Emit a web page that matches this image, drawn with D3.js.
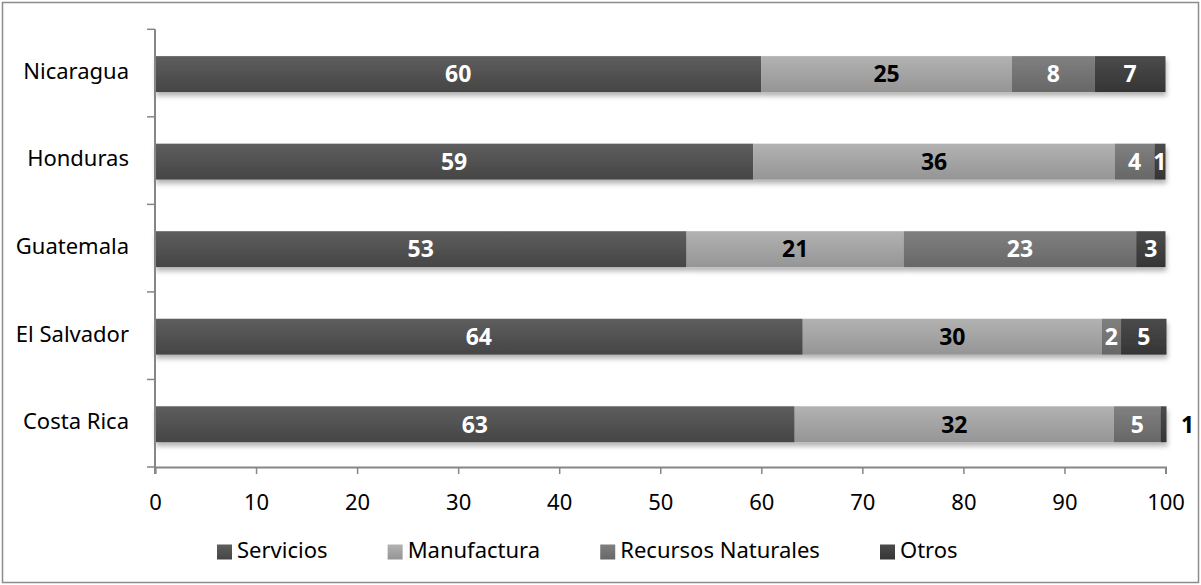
<!DOCTYPE html>
<html>
<head>
<meta charset="utf-8">
<script src="https://cdn.jsdelivr.net/npm/d3@7"></script>
<style>
  body { margin: 0; background: #fff; }
  text { font-family: "Noto Sans", sans-serif; }
</style>
</head>
<body>
<script>
// data (percent of total, per country)
const countries = ["Nicaragua", "Honduras", "Guatemala", "El Salvador", "Costa Rica"];
const series = ["Servicios", "Manufactura", "Recursos Naturales", "Otros"];
const servicios = [60.0, 59.2, 52.6, 64.1, 63.3];
const manufactura = [24.8, 35.8, 21.5, 29.6, 31.6];
const recursos = [8.2, 3.9, 23.0, 1.9, 4.6];
const otros = [7.0, 1.1, 2.9, 4.5, 0.6];
const xTicks = [0, 10, 20, 30, 40, 50, 60, 70, 80, 90, 100];

const W = 1201, H = 585;
const margin = { top: 29.3, right: 36, bottom: 118, left: 155 };
const width = W - margin.left - margin.right,
      height = H - margin.top - margin.bottom;
const fs = 22;

const colors = {
  "Servicios": ["#5e5e5e", "#454545"],
  "Manufactura": ["#b2b2b2", "#959595"],
  "Recursos Naturales": ["#808080", "#676767"],
  "Otros": ["#4b4b4b", "#353535"]
};
const labelColor = { "Servicios": "#fff", "Manufactura": "#000", "Recursos Naturales": "#fff", "Otros": "#fff" };

const rows = countries.map((c, i) => ({
  country: c,
  "Servicios": servicios[i],
  "Manufactura": manufactura[i],
  "Recursos Naturales": recursos[i],
  "Otros": otros[i]
}));
const stacked = d3.stack().keys(series)(rows);

const svg = d3.select("body").append("svg")
  .attr("width", W).attr("height", H);

const defs = svg.append("defs");
series.forEach((s, i) => {
  const g = defs.append("linearGradient").attr("id", "g" + i)
    .attr("x1", 0).attr("y1", 0).attr("x2", 0).attr("y2", 1);
  g.append("stop").attr("offset", "0%").attr("stop-color", colors[s][0]);
  g.append("stop").attr("offset", "100%").attr("stop-color", colors[s][1]);
});
defs.append("filter").attr("id", "shadow")
  .attr("x", "-5%").attr("y", "-20%").attr("width", "110%").attr("height", "160%")
  .append("feDropShadow")
    .attr("dx", 1).attr("dy", 4).attr("stdDeviation", 2.5)
    .attr("flood-color", "#000").attr("flood-opacity", 0.3);

// outer frame
svg.append("rect")
  .attr("x", 2.5).attr("y", 2.5).attr("width", W - 5).attr("height", H - 5)
  .attr("fill", "none").attr("stroke", "#8c8c8c").attr("stroke-width", 1.5);

const g = svg.append("g").attr("transform", `translate(${margin.left},${margin.top})`);

const x = d3.scaleLinear().domain([0, 100]).range([0, width + 0.5]);
const y = d3.scaleBand().domain(countries).range([0, height])
  .paddingInner(0.59).paddingOuter(0.295);

// bars
const barGroup = g.append("g").attr("filter", "url(#shadow)");
stacked.forEach((s, i) => {
  barGroup.selectAll(null).data(s).join("rect")
    .attr("x", d => x(d[0]))
    .attr("y", d => y(d.data.country) + 1)
    .attr("width", d => x(d[1]) - x(d[0]))
    .attr("height", y.bandwidth())
    .attr("fill", `url(#g${i})`);
});

// value labels
stacked.forEach(s => {
  g.selectAll(null).data(s).join("text")
    .attr("x", d => {
      const w = x(d[1]) - x(d[0]);
      return w < 8 ? x(d[1]) + 21 : (x(d[0]) + x(d[1])) / 2;
    })
    .attr("y", d => y(d.data.country) + y.bandwidth() / 2 + 3)
    .attr("text-anchor", "middle")
    .attr("dominant-baseline", "middle")
    .attr("font-size", 23)
    .attr("font-weight", "bold")
    .attr("fill", d => (x(d[1]) - x(d[0]) < 8) ? "#000" : labelColor[s.key])
    .text(d => Math.round(d[1] - d[0]));
});

// axes
const axisColor = "#868686";
const xAxis = g.append("g").attr("transform", `translate(0,${height})`)
  .call(d3.axisBottom(x).tickValues(xTicks).tickSize(7).tickPadding(20));
xAxis.select(".domain").attr("stroke", axisColor).attr("stroke-width", 2);
xAxis.selectAll(".tick line").attr("stroke", axisColor).attr("stroke-width", 1.5);
xAxis.selectAll(".tick text").attr("font-size", fs).attr("fill", "#000")
  .style("font-family", "Noto Sans, sans-serif");

const yAxis = g.append("g");
yAxis.append("line")
  .attr("x1", 0).attr("x2", 0).attr("y1", 0).attr("y2", height + 7)
  .attr("stroke", axisColor).attr("stroke-width", 2);
yAxis.selectAll("line.tk").data(d3.range(countries.length + 1)).join("line")
  .attr("class", "tk")
  .attr("x1", -8).attr("x2", 0)
  .attr("y1", i => i * y.step()).attr("y2", i => i * y.step())
  .attr("stroke", axisColor).attr("stroke-width", 1.5);
yAxis.selectAll("text").data(countries).join("text")
  .attr("x", -26)
  .attr("y", d => y(d) + y.bandwidth() / 2)
  .attr("text-anchor", "end")
  .attr("dominant-baseline", "middle")
  .attr("font-size", fs)
  .attr("fill", "#000")
  .text(d => d);

// legend: first swatch at x=217, last label starts at x=900
const legend = svg.append("g").attr("transform", "translate(217,552)");
const items = series.map((s, i) => {
  const item = legend.append("g");
  item.append("rect").attr("x", 0).attr("y", -7.5).attr("width", 15).attr("height", 15)
    .attr("fill", `url(#g${i})`);
  const t = item.append("text").attr("x", 20).attr("y", 0)
    .attr("dominant-baseline", "middle")
    .attr("font-size", fs).attr("fill", "#000").text(s);
  return { item, w: 20 + t.node().getComputedTextLength() };
});
const used = d3.sum(items.slice(0, 3), d => d.w) + 20;
const gap = (900 - 217 - used) / 3;
let lx = 0;
items.forEach(d => {
  d.item.attr("transform", `translate(${lx},0)`);
  lx += d.w + gap;
});
</script>
</body>
</html>
